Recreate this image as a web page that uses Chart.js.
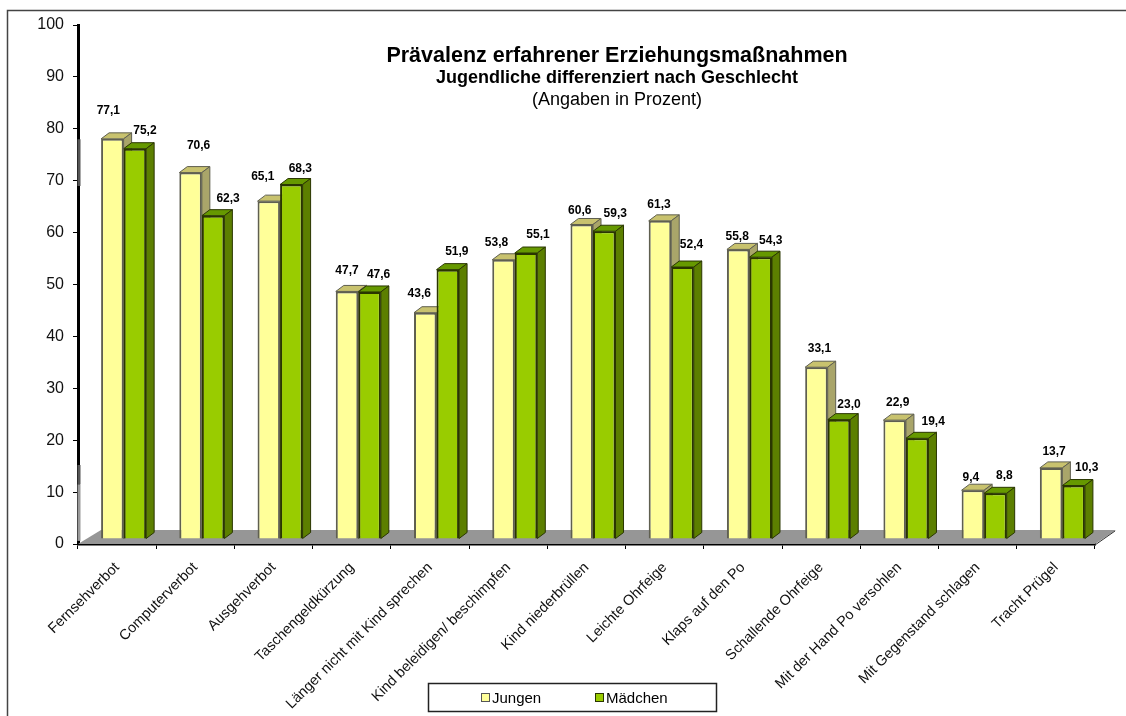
<!DOCTYPE html>
<html>
<head>
<meta charset="utf-8">
<title>Prävalenz erfahrener Erziehungsmaßnahmen</title>
<script src="https://cdn.jsdelivr.net/npm/chart.js@4"></script>
<style>
  html, body { margin: 0; padding: 0; background: #fff; }
  canvas { display: block; }
</style>
</head>
<body>
<canvas id="chart" width="1126" height="716"></canvas>
<script>
const categories = ['Fernsehverbot', 'Computerverbot', 'Ausgehverbot', 'Taschengeldkürzung',
    'Länger nicht mit Kind sprechen', 'Kind beleidigen/ beschimpfen', 'Kind niederbrüllen',
    'Leichte Ohrfeige', 'Klaps auf den Po', 'Schallende Ohrfeige', 'Mit der Hand Po versohlen',
    'Mit Gegenstand schlagen', 'Tracht Prügel'];
const jungen = [77.1, 70.6, 65.1, 47.7, 43.6, 53.8, 60.6, 61.3, 55.8, 33.1, 22.9, 9.4, 13.7];
const maedchen = [75.2, 62.3, 68.3, 47.6, 51.9, 55.1, 59.3, 52.4, 54.3, 23.0, 19.4, 8.8, 10.3];
const seriesNames = ['Jungen', 'Mädchen'];
const titleLines = ['Prävalenz erfahrener Erziehungsmaßnahmen',
    'Jugendliche differenziert nach Geschlecht', '(Angaben in Prozent)'];

// hand placed value labels, offset from the top of each bar
const nudgeJungen = [[-4, -28], [8, -27], [-6, -24], [0, -21], [-6, -19], [-7, -17], [-2, -14],
    [-1, -16], [-1, -13], [3, -19], [3, -17], [-2, -13], [3, -16]];
const nudgeMaedchen = [[10, -18], [15, -17], [9, -16], [9, -17], [9, -18], [12, -18], [11, -18],
    [9, -22], [10, -16], [10, -15], [16, -17], [9, -18], [13, -18]];

const FONT = '"Liberation Sans", Arial, sans-serif';
const DEPTH_X = 8, DEPTH_Y = 6;      // fake 3D depth of the bars
const SHIFT_X = 6.5, SHIFT_Y = -5;   // bars stand in the middle of the floor
const faces = [
    { front: '#FFFF99', top: '#C8C26E', side: '#A9A56A', line: '#5F5F50' },
    { front: '#99CC00', top: '#669900', side: '#5C7F00', line: '#2A3600' }
];

function drawFace(ctx, points, fill, line) {
    ctx.beginPath();
    points.forEach((p, i) => i ? ctx.lineTo(p[0], p[1]) : ctx.moveTo(p[0], p[1]));
    ctx.closePath();
    ctx.fillStyle = fill;
    ctx.fill();
    ctx.strokeStyle = line;
    ctx.lineWidth = 1;
    ctx.stroke();
}

function drawText(ctx, text, x, y, font, align) {
    ctx.font = font;
    ctx.textAlign = align || 'center';
    ctx.textBaseline = 'middle';
    ctx.fillStyle = '#000';
    ctx.fillText(text, x, y);
}

const bars3d = {
    id: 'bars3d',
    beforeDatasetsDraw(chart) {
        const ctx = chart.ctx;
        const area = chart.chartArea;
        const y0 = chart.scales.y.getPixelForValue(0);

        // floor
        ctx.save();
        ctx.beginPath();
        ctx.moveTo(area.left, y0);
        ctx.lineTo(area.left + 23, y0 - 14);
        ctx.lineTo(area.right + 21, y0 - 14);
        ctx.lineTo(area.right, y0);
        ctx.closePath();
        ctx.fillStyle = '#969696';
        ctx.fill();
        ctx.strokeStyle = '#333';
        ctx.beginPath();
        ctx.moveTo(area.right, y0 + 1);
        ctx.lineTo(area.right + 20, y0 - 13);
        ctx.stroke();
        ctx.restore();

        ctx.save();
        ctx.translate(SHIFT_X, SHIFT_Y);
        categories.forEach((c, i) => {
            faces.forEach((face, s) => {
                const bar = chart.getDatasetMeta(s).data[i];
                const l = bar.x - bar.width / 2, r = bar.x + bar.width / 2;
                drawFace(ctx, [[l, bar.y], [l + DEPTH_X, bar.y - DEPTH_Y], [r + DEPTH_X, bar.y - DEPTH_Y], [r, bar.y]], face.top, face.line);
                drawFace(ctx, [[r, bar.y], [r + DEPTH_X, bar.y - DEPTH_Y], [r + DEPTH_X, bar.base - DEPTH_Y], [r, bar.base]], face.side, face.line);
            });
        });
    },
    afterDatasetsDraw(chart) {
        const ctx = chart.ctx;
        // value labels, still inside the shifted coordinates
        [[jungen, nudgeJungen], [maedchen, nudgeMaedchen]].forEach((set, s) => {
            chart.getDatasetMeta(s).data.forEach((bar, i) => {
                const text = set[0][i].toFixed(1).replace('.', ',');
                drawText(ctx, text, bar.x + set[1][i][0], bar.y + set[1][i][1], 'bold 12px ' + FONT);
            });
        });
        ctx.restore();
    }
};

const decorations = {
    id: 'decorations',
    afterDraw(chart) {
        const ctx = chart.ctx;
        const yScale = chart.scales.y;
        const left = chart.chartArea.left + 1;

        // outer frame, only top and left are in view
        ctx.save();
        ctx.strokeStyle = '#444';
        ctx.lineWidth = 1.5;
        ctx.beginPath();
        ctx.moveTo(1126, 10.5);
        ctx.lineTo(7.5, 10.5);
        ctx.lineTo(7.5, 716);
        ctx.stroke();

        // the axis line fades to grey in places
        ctx.lineWidth = 3;
        ctx.strokeStyle = '#555';
        ctx.beginPath();
        ctx.moveTo(left, yScale.getPixelForValue(78));
        ctx.lineTo(left, yScale.getPixelForValue(69));
        ctx.moveTo(left, yScale.getPixelForValue(15.2));
        ctx.lineTo(left, yScale.getPixelForValue(11.5));
        ctx.stroke();
        ctx.strokeStyle = '#999';
        ctx.beginPath();
        ctx.moveTo(left, yScale.getPixelForValue(11.5));
        ctx.lineTo(left, yScale.getPixelForValue(0.6));
        ctx.stroke();

        // title
        drawText(ctx, titleLines[0], 617, 56, 'bold 21.5px ' + FONT);
        drawText(ctx, titleLines[1], 617, 78, 'bold 18px ' + FONT);
        drawText(ctx, titleLines[2], 617, 100, '18px ' + FONT);

        // legend
        ctx.strokeStyle = '#222';
        ctx.lineWidth = 1.5;
        ctx.strokeRect(428.5, 683.5, 288, 28);
        [481, 595].forEach((x, s) => {
            ctx.fillStyle = faces[s].front;
            ctx.fillRect(x, 693, 8, 8);
            ctx.strokeStyle = s ? '#2A3600' : '#555';
            ctx.lineWidth = 1;
            ctx.strokeRect(x + 0.5, 693.5, 8, 8);
            drawText(ctx, seriesNames[s], x + 11, 699, '15px ' + FONT, 'left');
        });
        ctx.restore();
    }
};

new Chart(document.getElementById('chart'), {
    type: 'bar',
    data: {
        labels: categories,
        datasets: [
            { label: seriesNames[0], data: jungen, backgroundColor: faces[0].front, borderColor: faces[0].line, borderWidth: 2 },
            { label: seriesNames[1], data: maedchen, backgroundColor: faces[1].front, borderColor: faces[1].line, borderWidth: 2 }
        ]
    },
    options: {
        responsive: false,
        animation: false,
        layout: { padding: { top: 25, right: 31, left: 0, bottom: 0 } },
        plugins: { legend: { display: false }, title: { display: false }, tooltip: { enabled: false } },
        datasets: { bar: { categoryPercentage: 0.576, barPercentage: 1 } },
        scales: {
            x: {
                afterFit(scale) { scale.height = 172; },
                grid: { drawOnChartArea: false, drawTicks: true, tickLength: 5, color: '#000', offset: true },
                border: { color: '#000', width: 2.5 },
                ticks: { minRotation: 45, maxRotation: 45, autoSkip: false, padding: 10, color: '#111', font: { family: FONT, size: 14.5 } }
            },
            y: {
                min: 0,
                max: 100,
                afterFit(scale) { scale.width = 78; },
                grid: { drawOnChartArea: false, drawTicks: true, tickLength: 5, color: '#000' },
                border: { color: '#000', width: 3 },
                ticks: { stepSize: 10, padding: 9, color: '#111', font: { family: FONT, size: 16 } }
            }
        }
    },
    plugins: [bars3d, decorations]
});
</script>
</body>
</html>
